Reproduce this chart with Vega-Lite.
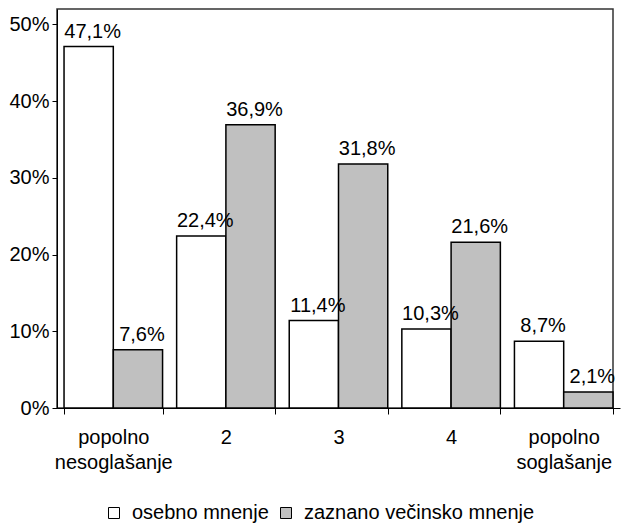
{
  "$schema": "https://vega.github.io/schema/vega-lite/v6.json",
  "autosize": "none",
  "padding": {"left": 57, "top": 9, "right": 9, "bottom": 119},
  "width": 556,
  "height": 399,
  "background": "white",
  "config": {
    "font": "Liberation Sans",
    "view": {"stroke": "#333333", "strokeWidth": 1.5},
    "axis": {"grid": false, "domainColor": "black", "tickColor": "black", "labelColor": "black", "labelFont": "Liberation Sans", "labelFontSize": 20}
  },
  "data": {
    "values": [
      {"cat": "popolno nesoglašanje", "series": "osebno mnenje", "value": 47.1},
      {"cat": "popolno nesoglašanje", "series": "zaznano večinsko mnenje", "value": 7.6},
      {"cat": "2", "series": "osebno mnenje", "value": 22.4},
      {"cat": "2", "series": "zaznano večinsko mnenje", "value": 36.9},
      {"cat": "3", "series": "osebno mnenje", "value": 11.4},
      {"cat": "3", "series": "zaznano večinsko mnenje", "value": 31.8},
      {"cat": "4", "series": "osebno mnenje", "value": 10.3},
      {"cat": "4", "series": "zaznano večinsko mnenje", "value": 21.6},
      {"cat": "popolno soglašanje", "series": "osebno mnenje", "value": 8.7},
      {"cat": "popolno soglašanje", "series": "zaznano večinsko mnenje", "value": 2.1}
    ]
  },
  "transform": [
    {"calculate": "replace(format(datum.value, '.1f'), '.', ',') + '%'", "as": "label"}
  ],
  "encoding": {
    "x": {
      "field": "cat", "type": "nominal",
      "sort": ["popolno nesoglašanje", "2", "3", "4", "popolno soglašanje"],
      "scale": {"range": [0, 563], "paddingInner": 0.125, "paddingOuter": 0.0625},
      "axis": {
        "title": null, "labelAngle": 0, "tickBand": "extent", "tickSize": 6,
        "labelPadding": 13, "labelLineHeight": 25, "labelBaseline": "top",
        "labelExpr": "split(datum.label, ' ')"
      }
    },
    "xOffset": {"field": "series", "type": "nominal", "scale": {"paddingInner": 0, "paddingOuter": 0}},
    "y": {
      "field": "value", "type": "quantitative",
      "scale": {"domain": [0, 52], "nice": false},
      "axis": {"title": null, "values": [0, 10, 20, 30, 40, 50], "labelExpr": "datum.value + '%'", "tickSize": 5, "labelPadding": 3}
    }
  },
  "layer": [
    {
      "mark": {"type": "bar", "stroke": "black", "strokeWidth": 1.5},
      "encoding": {
        "color": {
          "field": "series", "type": "nominal",
          "scale": {"domain": ["osebno mnenje", "zaznano večinsko mnenje"], "range": ["white", "#C0C0C0"]},
          "legend": {
            "title": null, "orient": "none", "direction": "horizontal",
            "legendX": 47, "legendY": 494,
            "symbolType": "square", "symbolSize": 121,
            "symbolStrokeColor": "black", "symbolStrokeWidth": 1,
            "labelFontSize": 20, "labelFont": "Liberation Sans", "labelColor": "black",
            "labelLimit": 400, "labelOffset": 8, "columnPadding": 7
          }
        }
      }
    },
    {
      "mark": {"type": "text", "baseline": "bottom", "dy": -5, "dx": 4, "fontSize": 20, "font": "Liberation Sans", "color": "black"},
      "encoding": {"text": {"field": "label"}}
    }
  ]
}
